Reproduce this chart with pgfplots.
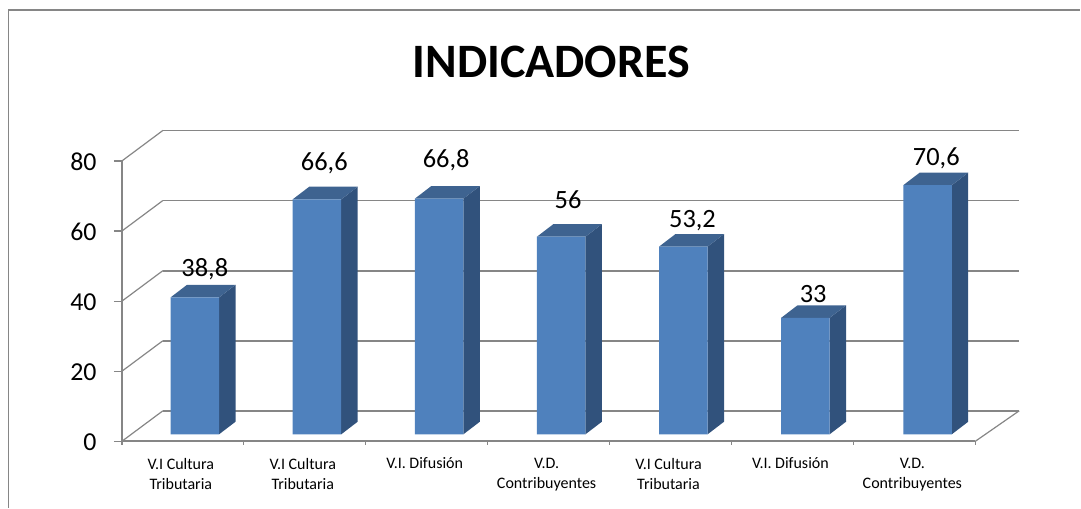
\documentclass[border=0pt]{standalone}
\usepackage{fontspec}
\setmainfont{Carlito}
\usepackage{pgfplots}
\usepackage{pgfplotstable}
\pgfplotsset{compat=1.18}
\definecolor{gridc}{HTML}{868686}
\definecolor{frontc}{HTML}{4F81BD}
\definecolor{sidec}{HTML}{31527C}
\definecolor{topc}{HTML}{3E6390}
\pgfplotstableread{
x v
0.098 38.8
1.100 66.6
2.102 66.8
3.103 56
4.105 53.2
5.106 33
6.108 70.6
}\bars
\pgfplotstableread{
x y lab
0.18 46.8 {38,8}
1.16 76.8 {66,6}
2.16 77.7 {66,8}
3.16 66.4 {56}
4.18 60.5 {53,2}
5.17 39.9 {33}
6.18 78.1 {70,6}
}\labels
\newcommand\depth[2]{%
  \pgfmathsetmacro\xl{#1-0.199}%
  \pgfmathsetmacro\xr{#1+0.199}%
  \pgfmathsetmacro\xb{\xr+0.135}%
  \pgfmathsetmacro\xc{\xl+0.135}%
  \pgfmathsetmacro\yt{#2+3.57}%
  \edef\tmp{\noexpand\addplot[fill=sidec,draw=none,forget plot] coordinates {(\xr,0) (\xb,3.57) (\xb,\yt) (\xr,#2)} -- cycle;
  \noexpand\addplot[fill=topc,draw=none,forget plot] coordinates {(\xl,#2) (\xr,#2) (\xb,\yt) (\xc,\yt)} -- cycle;}%
  \tmp}
\newcommand\wall[1]{%
  \pgfmathsetmacro\yf{#1}%
  \pgfmathsetmacro\yb{#1+8.64}%
  \edef\tmp{\noexpand\addplot[gridc,line width=0.9pt,forget plot] coordinates {(-0.5,\yf) (-0.164,\yb)};
  \noexpand\addplot[gridc,line width=1.4pt,forget plot] coordinates {(-0.164,\yb) (6.86,\yb)};}%
  \tmp}
\begin{document}
\begin{tikzpicture}
\begin{axis}[
  scale only axis,
  width=640.5pt, height=210.4pt,
  xmin=-0.5, xmax=6.5, ymin=-1.98, ymax=77.48,
  clip=false,
  axis x line*=bottom, axis y line*=left,
  axis line style={gridc,line width=1.4pt,-},
  tick style={gridc,line width=0.9pt},
  tick align=outside,
  major tick length=6pt,
  ytick={-1.98,17.88,37.74,57.62,77.48},
  yticklabels={0,20,40,60,80},
  yticklabel style={font=\fontsize{19.4}{22}\selectfont,text=black,anchor=east,xshift=-9.5pt,yshift=-0.6pt},
  xtick={0,...,6},
  x tick style={draw=none},
  minor xtick={-0.5,0.5,...,6.5},
  minor x tick style={gridc,line width=0.9pt,draw=gridc},
  minor tick length=2.5pt,
  xticklabels={{V.I Cultura\\Tributaria},{V.I Cultura\\Tributaria},{V.I. Difusión},{V.D.\\Contribuyentes},{V.I Cultura\\Tributaria},{V.I. Difusión},{V.D.\\Contribuyentes}},
  xticklabel style={font=\fontsize{12}{15}\selectfont,align=center,anchor=north,text=black,yshift=-3pt,xshift=-1.5pt},
  title={INDICADORES},
  title style={at={(axis description cs:0.503,1.323)},anchor=center,font=\bfseries\fontsize{36}{38}\selectfont},
]
\path (axis cs:-1.5,-20.83) rectangle (axis cs:7.361,123.1);
% chart frame
\addplot[gridc,line width=1.1pt,forget plot] coordinates {(-1.43,-20.83) (-1.43,120.2) (7.361,120.2)};
% walls
\wall{-1.98}\wall{17.88}\wall{37.74}\wall{57.62}\wall{77.48}
\addplot[gridc,line width=0.9pt,forget plot] coordinates {(6.5,-1.98) (6.86,6.66)};
% bar depth
\depth{0.098}{38.8}\depth{1.100}{66.6}\depth{2.102}{66.8}\depth{3.103}{56}\depth{4.105}{53.2}\depth{5.106}{33}\depth{6.108}{70.6}
% bar fronts
\addplot[ybar,bar shift=0pt,bar width=0.398,fill=frontc,draw=none,forget plot] table[x=x,y=v] {\bars};
% data labels
\addplot[draw=none,mark=none,forget plot,nodes near coords,point meta=explicit symbolic,
  nodes near coords style={anchor=center,font=\fontsize{19.8}{22}\selectfont,text=black,inner sep=0pt}]
  table[x=x,y=y,meta=lab] {\labels};
\end{axis}
\end{tikzpicture}
\end{document}
